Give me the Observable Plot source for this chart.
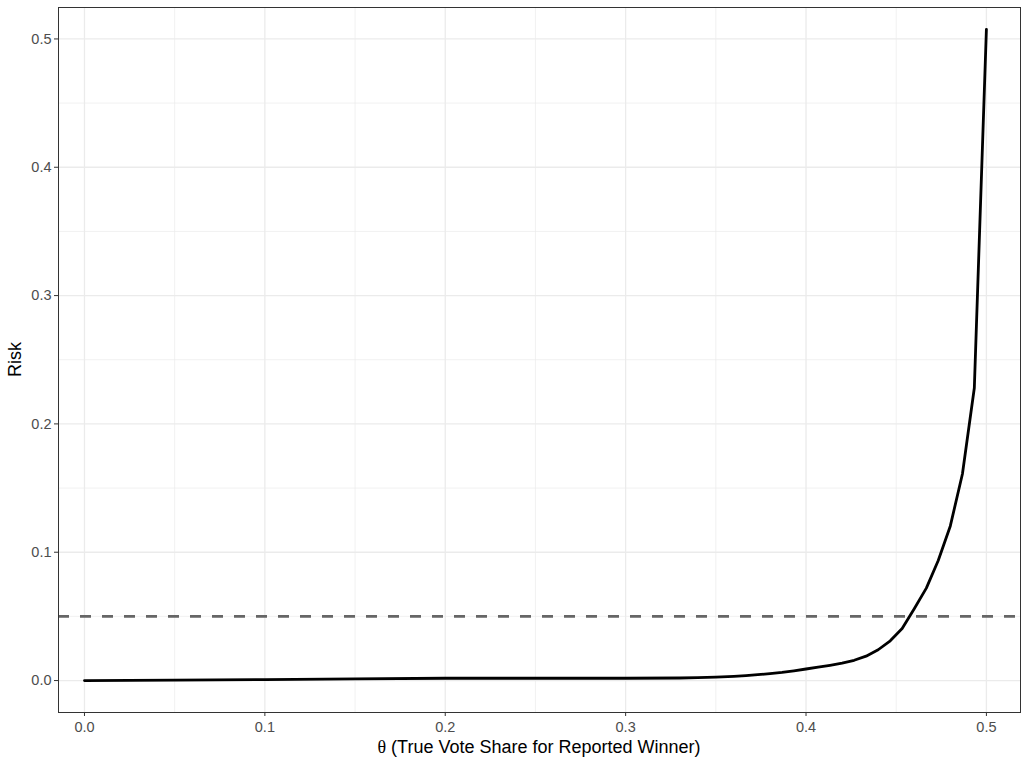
<!DOCTYPE html>
<html><head><meta charset="utf-8">
<script src="https://cdn.jsdelivr.net/npm/d3@7"></script>
<script src="https://cdn.jsdelivr.net/npm/@observablehq/plot@0.6"></script>
<style>body{margin:0;background:#fff}</style>
</head><body><div id="chart"></div>
<script>
const theta = [0, 0.05, 0.1, 0.15, 0.2, 0.25, 0.3, 0.33, 0.34, 0.35, 0.36, 0.3667, 0.3733, 0.38, 0.3867, 0.3933, 0.4, 0.4067, 0.4133, 0.42, 0.4267, 0.4333, 0.44, 0.4467, 0.4533, 0.46, 0.4667, 0.4733, 0.48, 0.4867, 0.4933, 0.5];
const risk = [0, 0.0003, 0.0007, 0.0013, 0.0018, 0.0018, 0.0018, 0.002, 0.0023, 0.0027, 0.0033, 0.0039, 0.0046, 0.0054, 0.0064, 0.0076, 0.009, 0.0104, 0.0119, 0.0136, 0.0158, 0.019, 0.024, 0.031, 0.0405, 0.056, 0.072, 0.0935, 0.1205, 0.161, 0.228, 0.5075];
const xTicks = [0, 0.1, 0.2, 0.3, 0.4, 0.5];
const yTicks = [0, 0.1, 0.2, 0.3, 0.4, 0.5];
const xMinor = [0.05, 0.15, 0.25, 0.35, 0.45];
const yMinor = [0.05, 0.15, 0.25, 0.35, 0.45];
const threshold = [0.05];
const xSymbol = "θ";
const xTitle = " (True Vote Share for Reported Winner)";
const yTitle = "Risk";

const data = theta.map((t, i) => ({theta: t, risk: risk[i]}));

const W = 1028, H = 768, ML = 58, MR = 8, MT = 7, MB = 56;

const chart = Plot.plot({
  width: W, height: H, marginLeft: ML, marginRight: MR, marginTop: MT, marginBottom: MB,
  style: {fontFamily: "'Liberation Sans', Arial, sans-serif", fontSize: "14.5px", background: "#fff", color: "#333"},
  x: {domain: [-0.0144, 0.5189]},
  y: {domain: [-0.0249, 0.5245]},
  marks: [
    Plot.ruleX(xMinor, {stroke: "#ebebeb", strokeWidth: 0.7}),
    Plot.ruleY(yMinor, {stroke: "#ebebeb", strokeWidth: 0.7}),
    Plot.ruleX(xTicks, {stroke: "#ebebeb", strokeWidth: 1.3}),
    Plot.ruleY(yTicks, {stroke: "#ebebeb", strokeWidth: 1.3}),
    Plot.ruleY(threshold, {stroke: "#666666", strokeWidth: 2.8, strokeDasharray: "11,11"}),
    Plot.line(data, {x: "theta", y: "risk", stroke: "#000", strokeWidth: 2.8}),
    Plot.frame({stroke: "#333", strokeWidth: 1}),
    Plot.axisX({ticks: xTicks, tickFormat: d3.format(".1f"), tickSize: 4, tickPadding: 5, label: null}),
    Plot.axisY({ticks: yTicks, tickFormat: d3.format(".1f"), tickSize: 4, tickPadding: 3, label: null})
  ]
});

d3.select(chart).selectAll('g[aria-label$="tick label"]').attr("fill", "#4d4d4d");

const svg = d3.select(chart);
const xt = svg.append("text")
  .attr("x", (ML + W - MR) / 2).attr("y", 747).attr("dy", "0.35em")
  .attr("text-anchor", "middle").attr("fill", "#000")
  .style("font-size", "18px").style("font-family", "'Liberation Sans', Arial, sans-serif");
xt.append("tspan").style("font-family", "'Liberation Serif', 'DejaVu Serif', serif").text(xSymbol);
xt.append("tspan").text(xTitle);

svg.append("text")
  .attr("transform", `translate(15,${(MT + H - MB) / 2}) rotate(-90)`)
  .attr("dy", "0.35em").attr("text-anchor", "middle").attr("fill", "#000")
  .style("font-size", "18px").style("font-family", "'Liberation Sans', Arial, sans-serif")
  .text(yTitle);

document.getElementById("chart").appendChild(chart);
</script>
</body></html>
